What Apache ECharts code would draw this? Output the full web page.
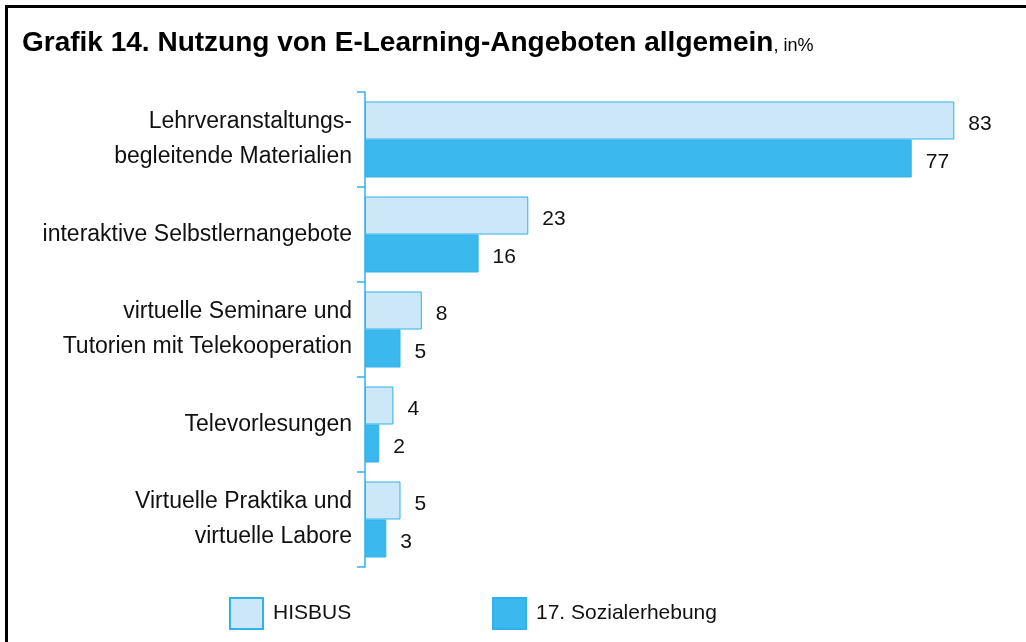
<!DOCTYPE html>
<html>
<head>
<meta charset="utf-8">
<script src="https://cdn.jsdelivr.net/npm/echarts@6/dist/echarts.min.js"></script>
<style>
    html, body { margin: 0; padding: 0; background: #fff; }
    #frame {
        position: absolute; left: 5px; top: 5px;
        width: 1100px; height: 700px;
        border: 3px solid #000;
    }
    #chart { position: absolute; left: 0; top: 0; width: 1026px; height: 642px; }
</style>
</head>
<body>
<div id="frame"></div>
<div id="chart"></div>
<script>
// Kategorien und Werte (in %)
const categories = [
    "Lehrveranstaltungs-\nbegleitende Materialien",
    "interaktive Selbstlernangebote",
    "virtuelle Seminare und\nTutorien mit Telekooperation",
    "Televorlesungen",
    "Virtuelle Praktika und\nvirtuelle Labore"
];
const hisbus = [83, 23, 8, 4, 5];
const sozialerhebung = [77, 16, 5, 2, 3];
const seriesNames = ["HISBUS", "17. Sozialerhebung"];

const FONT = "'Liberation Sans', Arial, Helvetica, sans-serif";
const lightBlue = "#cce7f7";
const blue = "#3bb9ee";
const edge = "#2fb1ea";

const chart = echarts.init(document.getElementById("chart"));

const labelStyle = {
    show: true,
    position: "right",
    distance: 14,
    offset: [0, 4],
    color: "#111",
    fontFamily: FONT,
    fontSize: 21
};

const legendBase = {
    orient: "horizontal",
    top: 597,
    padding: 0,
    icon: "rect",
    itemWidth: 33,
    itemHeight: 31,
    itemGap: 11,
    textStyle: {
        color: "#111",
        fontFamily: FONT,
        fontSize: 21,
        padding: [2, 0, 0, 5]
    }
};

chart.setOption({
    animation: false,
    title: {
        left: 22,
        top: 29,
        padding: 0,
        text: "{a|Grafik 14. Nutzung von E-Learning-Angeboten allgemein}{b|, in%}",
        textStyle: {
            rich: {
                a: {
                    fontFamily: FONT,
                    fontWeight: "bold",
                    fontSize: 28,
                    color: "#000"
                },
                b: {
                    fontFamily: FONT,
                    fontWeight: "normal",
                    fontSize: 18,
                    color: "#000",
                    padding: [7, 0, 0, 0]
                }
            }
        }
    },
    legend: [
        Object.assign({}, legendBase, { left: 229, data: [seriesNames[0]] }),
        Object.assign({}, legendBase, { left: 492, data: [seriesNames[1]] })
    ],
    grid: {
        left: 365,
        right: 22,
        top: 92,
        bottom: 75
    },
    xAxis: {
        type: "value",
        min: 0,
        max: 90,
        show: false
    },
    yAxis: {
        type: "category",
        inverse: true,
        data: categories,
        axisLine: { show: true, lineStyle: { color: edge, width: 1.5 } },
        axisTick: { show: true, length: 8, lineStyle: { color: edge, width: 1.5 } },
        axisLabel: {
            margin: 13,
            color: "#111",
            fontFamily: FONT,
            fontSize: 23,
            lineHeight: 35,
            align: "right"
        },
        splitLine: { show: false }
    },
    series: [
        {
            name: seriesNames[0],
            type: "bar",
            data: hisbus,
            barGap: "0%",
            barCategoryGap: "20%",
            itemStyle: { color: lightBlue, borderColor: edge, borderWidth: 1 },
            label: labelStyle
        },
        {
            name: seriesNames[1],
            type: "bar",
            data: sozialerhebung,
            itemStyle: { color: blue, borderColor: edge, borderWidth: 1 },
            label: labelStyle
        }
    ]
});
</script>
</body>
</html>
